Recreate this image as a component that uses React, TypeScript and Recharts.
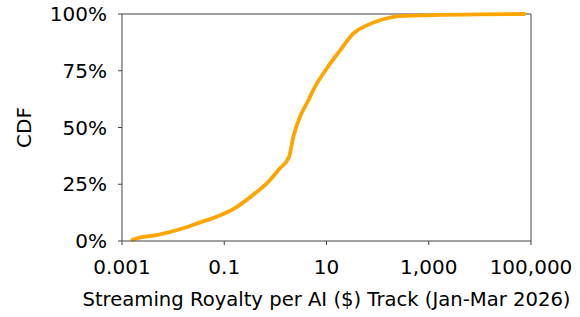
import { LineChart, Line, XAxis, YAxis, ReferenceLine } from "recharts";

// royalty per track in $ (log axis) and cumulative share in %
const royalty = [
  0.0015, 0.002, 0.005, 0.0158, 0.035, 0.071, 0.15, 0.237, 0.4, 0.68, 1.2, 1.85,
  2.25, 3.04, 4.42, 5.5, 10.1, 18.5, 33.6, 61.6, 129, 275, 1660, 10000, 78000,
];
const cdf = [
  0.3, 1.2, 2.7, 5.6, 8.3, 10.7, 14.0, 17.0, 21, 25.4, 31.8, 37, 46, 54.8, 62,
  66.5, 76, 84, 91.5, 95, 97.7, 99.1, 99.6, 99.8, 100,
];
const xTicks = [0.001, 0.1, 10, 1000, 100000];
const yTicks = [0, 25, 50, 75, 100];

const data = royalty.map((x, i) => ({ x, cdf: cdf[i] }));

const FONT = "'DejaVu Sans', sans-serif";
const AXIS = "#444";
const SIZE = 20;

export default function App() {
  return (
    <div style={{ position: "absolute", left: 0, top: 0 }}>
      <LineChart
        width={580}
        height={317}
        data={data}
        margin={{ top: 14, right: 49, left: 0, bottom: 0 }}
        style={{ fontFamily: FONT }}
      >
        <XAxis
          dataKey="x"
          type="number"
          scale="log"
          domain={[0.001, 100000]}
          ticks={xTicks}
          allowDataOverflow
          height={76}
          tickSize={4}
          tickMargin={15}
          stroke={AXIS}
          tick={{ fill: "#000", fontSize: SIZE }}
          tickFormatter={(v: number) =>
            v.toLocaleString("en-US", { maximumFractionDigits: 3 })
          }
          label={{
            value: "Streaming Royalty per AI ($) Track (Jan-Mar 2026)",
            position: "insideBottom",
            offset: 11,
            fill: "#000",
            fontSize: 19.6,
          }}
        />
        <YAxis
          type="number"
          domain={[0, 100]}
          ticks={yTicks}
          width={122}
          tickSize={4}
          tickMargin={11}
          stroke={AXIS}
          tick={{ fill: "#000", fontSize: SIZE }}
          tickFormatter={(v: number) => `${v}%`}
          label={{
            content: (props: any) => {
              const vb = props.viewBox || {};
              const cy = (vb.y ?? 0) + (vb.height ?? 0) / 2;
              const cx = (vb.x ?? 0) + 24;
              return (
                <text
                  x={cx}
                  y={cy}
                  transform={`rotate(-90 ${cx} ${cy})`}
                  textAnchor="middle"
                  dominantBaseline="central"
                  fontSize={SIZE}
                  fill="#000"
                >
                  CDF
                </text>
              );
            },
          }}
        />
        <ReferenceLine y={100} stroke={AXIS} />
        <ReferenceLine x={100000} stroke={AXIS} />
        <Line
          dataKey="cdf"
          type="monotone"
          stroke="#FFA500"
          strokeWidth={3.8}
          dot={false}
          isAnimationActive={false}
        />
      </LineChart>
    </div>
  );
}
